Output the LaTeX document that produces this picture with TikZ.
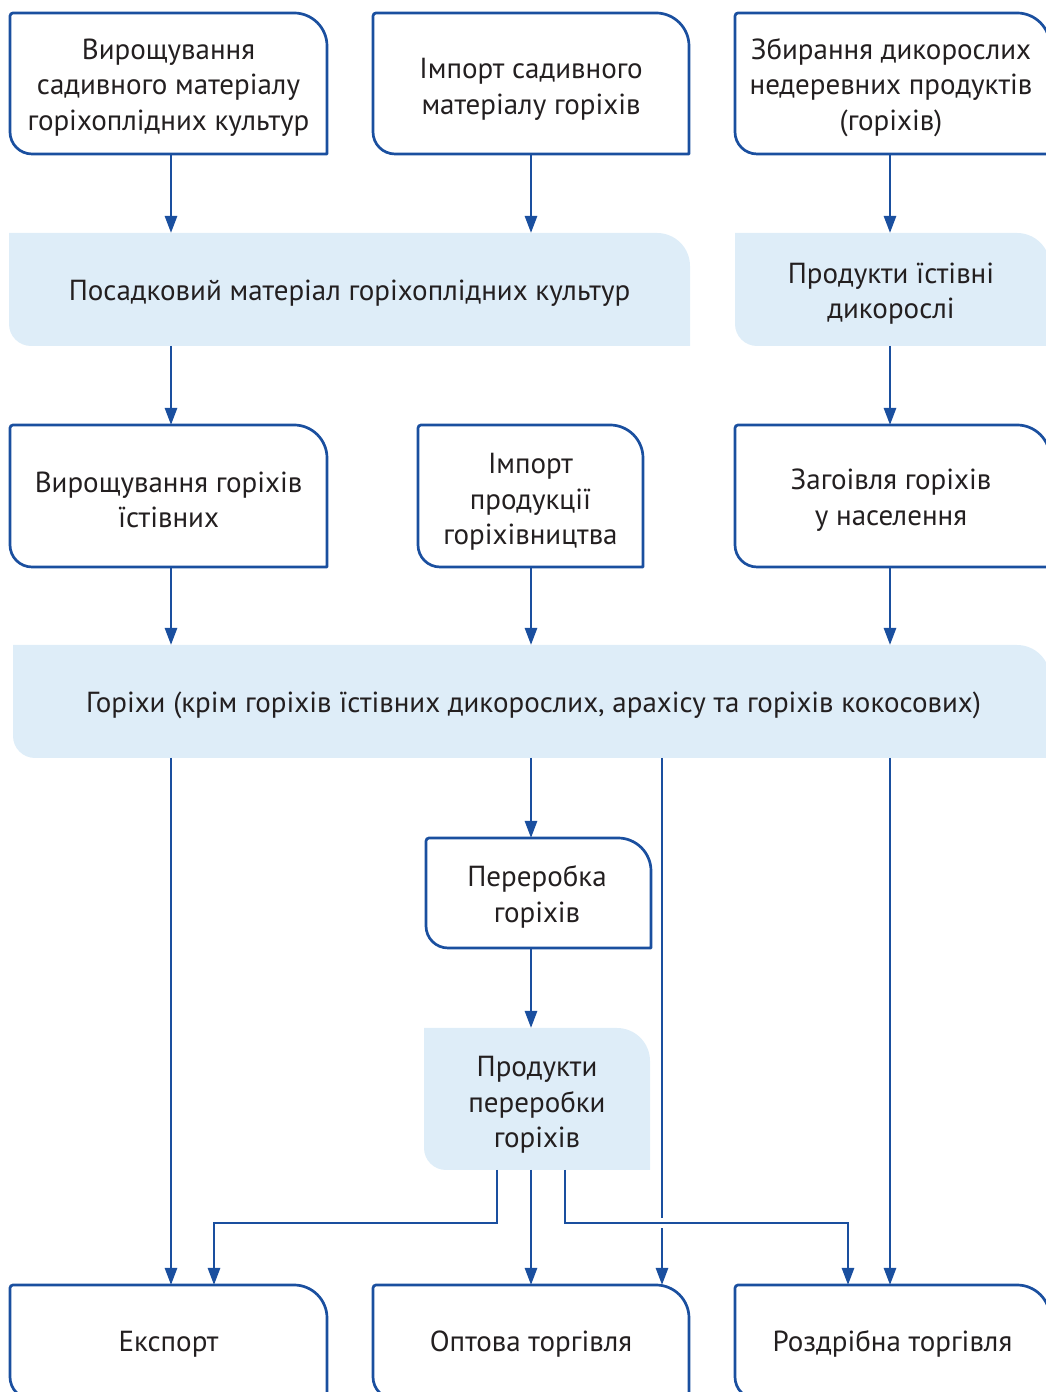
\documentclass[tikz,border=0pt]{standalone}
\usepackage{fontspec}
\setmainfont{PT Sans}
\usetikzlibrary{arrows.meta,calc}
\definecolor{bl}{HTML}{1A4F9F}
\definecolor{fl}{HTML}{DEEDF8}
\definecolor{tx}{HTML}{231F20}
\pgfdeclarelayer{background}
\pgfsetlayers{background,main}
\newcommand\wborder[1]{\draw[bline] (#1.south east) -- ([xshift=22pt]#1.south west) arc[start angle=270,end angle=180,radius=22pt] -- ([yshift=-3pt]#1.north west) arc[start angle=180,end angle=90,radius=3pt] -- ([xshift=-33pt]#1.north east) arc[start angle=90,end angle=0,radius=33pt] -- cycle;}
\newcommand\fborder[1]{\begin{pgfonlayer}{background}\fill[fl] (#1.south east) -- ([xshift=22pt]#1.south west) arc[start angle=270,end angle=180,radius=22pt] -- (#1.north west) -- ([xshift=-33pt]#1.north east) arc[start angle=90,end angle=0,radius=33pt] -- cycle;\end{pgfonlayer}}
\begin{document}
\begin{tikzpicture}[x=1pt,y=1pt,
  lbl/.style={text=tx, align=center, font=\fontsize{29}{35.5}\selectfont, inner sep=0pt, yshift=-4pt},
  boxn/.style={inner sep=0pt, outer sep=0pt},
  bline/.style={draw=bl, line width=2.7pt, line join=round},
  arr/.style={draw=bl, line width=2.7pt, -{Triangle[length=17pt,width=12pt]}}]
\useasboundingbox (0,0) rectangle (1046,1392);
\clip (0,0) rectangle (1046,1392);

% columns
\coordinate (c1) at (171,0);
\coordinate (c2) at (531,0);
\coordinate (c3) at (890,0);
\coordinate (c4) at (662,0);
\coordinate (cl) at (497,0);
\coordinate (cr) at (565,0);
\coordinate (ce) at (214,0);
\coordinate (crr) at (848,0);
\coordinate (yj) at (0,169);

% row 1
\node[boxn, minimum width=317pt, minimum height=141pt] (b1) at (168.5,1308.5) {};
\node[boxn, minimum width=316pt, minimum height=141pt] (b2) at (531,1308.5) {};
\node[boxn, minimum width=315pt, minimum height=141pt] (b3) at (892.5,1308.5) {};
\node[lbl] (t1) at (b1) {Вирощування\\садивного матеріалу\\горіхоплідних культур};
\node[lbl] (t2) at ([yshift=-2pt]b2) {Імпорт садивного\\матеріалу горіхів};
\node[lbl] (t3) at ([xshift=-1.5pt]b3) {Збирання дикорослих\\недеревних продуктів\\(горіхів)};
\wborder{b1}\wborder{b2}\wborder{b3}

% row 2
\node[boxn, minimum width=681pt, minimum height=113pt] (f1) at (349.5,1102.5) {};
\node[boxn, minimum width=315pt, minimum height=113pt] (f2) at (892.5,1102.5) {};
\node[lbl] (t4) at (f1) {Посадковий матеріал горіхоплідних культур};
\node[lbl] (t5) at ([xshift=-1.5pt]f2) {Продукти їстівні\\дикорослі};
\fborder{f1}\fborder{f2}

% row 3
\node[boxn, minimum width=317pt, minimum height=142pt] (b4) at (168.5,896) {};
\node[boxn, minimum width=225pt, minimum height=142pt] (b5) at (530.5,896) {};
\node[boxn, minimum width=315pt, minimum height=142pt] (b6) at (892.5,896) {};
\node[lbl] (t6) at (b4) {Вирощування горіхів\\їстівних};
\node[lbl] (t7) at ([yshift=-2pt]b5) {Імпорт\\продукції\\горіхівництва};
\node[lbl] (t8) at ([xshift=-1.5pt]b6) {Загоівля горіхів\\у населення};
\wborder{b4}\wborder{b5}\wborder{b6}

% row 4
\node[boxn, minimum width=1037pt, minimum height=113pt] (f3) at (531.5,690.5) {};
\node[lbl] (t9) at ([xshift=2pt]f3) {Горіхи (крім горіхів їстівних дикорослих, арахісу та горіхів кокосових)};
\fborder{f3}

% processing
\node[boxn, minimum width=225pt, minimum height=110pt] (p1) at (538.5,499) {};
\node[lbl] (t10) at ([xshift=-1.5pt]p1) {Переробка\\горіхів};
\wborder{p1}
\node[boxn, minimum width=226pt, minimum height=142pt] (p2) at (537,293) {};
\node[lbl] (t11) at ([yshift=-2pt]p2) {Продукти\\переробки\\горіхів};
\fborder{p2}

% bottom
\node[boxn, minimum width=317pt, minimum height=114pt] (e) at (168.5,50) {};
\node[boxn, minimum width=316pt, minimum height=114pt] (o) at (531,50) {};
\node[boxn, minimum width=315pt, minimum height=114pt] (r) at (892.5,50) {};
\node[lbl] (t12) at ([yshift=2pt]e) {Експорт};
\node[lbl] (t13) at ([yshift=2pt]o) {Оптова торгівля};
\node[lbl] (t14) at ([yshift=2pt]r) {Роздрібна торгівля};
\wborder{e}\wborder{o}\wborder{r}

% connectors
\draw[arr] (b1.south -| c1) -- (f1.north -| c1);
\draw[arr] (b2.south -| c2) -- (f1.north -| c2);
\draw[arr] (b3.south -| c3) -- (f2.north -| c3);
\draw[arr] (f1.south -| c1) -- (b4.north -| c1);
\draw[arr] (f2.south -| c3) -- (b6.north -| c3);
\draw[arr] (b4.south -| c1) -- (f3.north -| c1);
\draw[arr] (b5.south -| c2) -- (f3.north -| c2);
\draw[arr] (b6.south -| c3) -- (f3.north -| c3);
\draw[arr] (f3.south -| c1) -- (e.north -| c1);
\draw[arr] (f3.south -| c2) -- (p1.north -| c2);
\draw[arr] (f3.south -| c4) -- (o.north -| c4);
\draw[arr] (f3.south -| c3) -- (r.north -| c3);
\draw[arr] (p1.south -| c2) -- (p2.north -| c2);
\draw[arr] (p2.south -| c2) -- (o.north -| c2);
\draw[arr, line join=miter] (p2.south -| cl) -- (yj -| cl) -- (yj -| ce) -- (e.north -| ce);
\draw[white, line width=10pt] (yj -| cr) -- (yj -| crr);
\draw[arr, line join=miter] (p2.south -| cr) -- (yj -| cr) -- (yj -| crr) -- (r.north -| crr);
\end{tikzpicture}
\end{document}
